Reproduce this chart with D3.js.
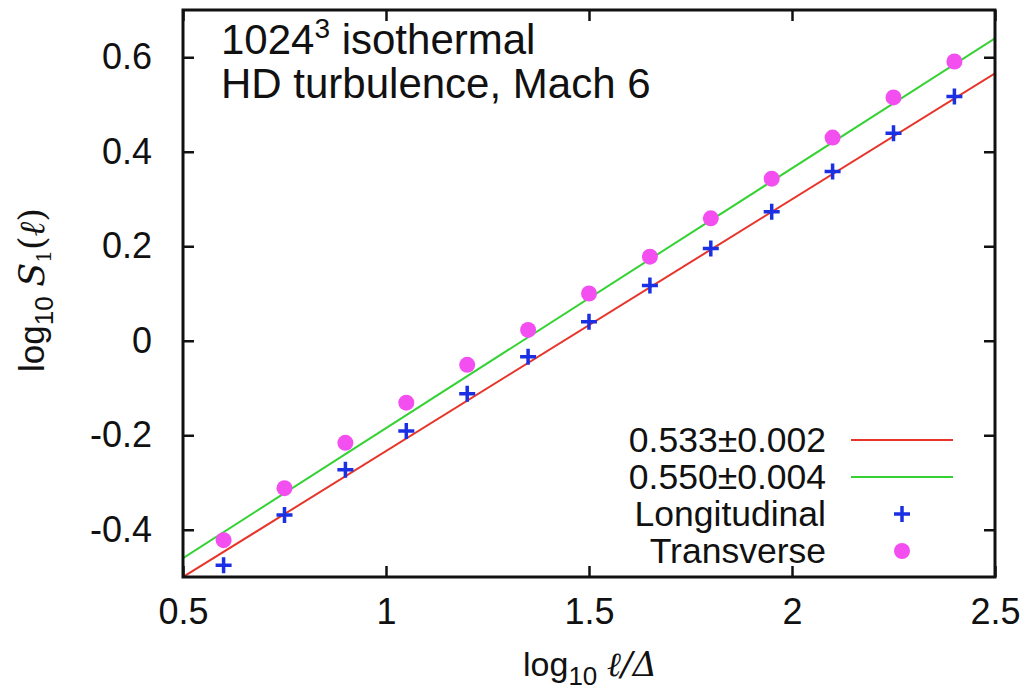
<!DOCTYPE html>
<html>
<head>
<meta charset="utf-8">
<script src="https://cdnjs.cloudflare.com/ajax/libs/d3/7.8.5/d3.min.js"></script>
<style>
  body { margin: 0; background: #fff; }
  svg text { font-family: "Liberation Sans", Arial, sans-serif; fill: #111; }
</style>
</head>
<body>
<svg id="chart" width="1030" height="691"></svg>
<script>
// data
var xs = [0.6, 0.75, 0.9, 1.05, 1.2, 1.35, 1.5, 1.65, 1.8, 1.95, 2.1, 2.25, 2.4];
var longitudinal = [-0.475, -0.369, -0.273, -0.191, -0.112, -0.034, 0.040, 0.117, 0.195, 0.273, 0.358, 0.439, 0.517];
var transverse = [-0.422, -0.312, -0.216, -0.131, -0.051, 0.023, 0.100, 0.178, 0.259, 0.343, 0.430, 0.515, 0.591];
var fitLong = [[0.5, -0.5], [2.5, 0.566]];
var fitTrans = [[0.5, -0.46], [2.5, 0.64]];
var xTicks = [0.5, 1, 1.5, 2, 2.5];
var yTicks = [-0.4, -0.2, 0, 0.2, 0.4, 0.6];
var legendLabels = ["0.533\u00b10.002", "0.550\u00b10.004", "Longitudinal", "Transverse"];

var mLeft = 183, mRight = 995, mTop = 10, mBottom = 577;

var svg = d3.select("#chart");
var x = d3.scaleLinear().domain([0.5, 2.5]).range([mLeft, mRight]);
var y = d3.scaleLinear().domain([-0.5, 0.7]).range([mBottom, mTop]);
var fmt = function(d) { return String(d); }; // plain hyphen minus like gnuplot

svg.append("clipPath").attr("id", "clip")
  .append("rect").attr("x", mLeft).attr("y", mTop)
  .attr("width", mRight - mLeft).attr("height", mBottom - mTop);

var plot = svg.append("g").attr("clip-path", "url(#clip)");
var line = d3.line().x(function(d) { return x(d[0]); }).y(function(d) { return y(d[1]); });

plot.append("path").datum(fitLong).attr("d", line)
  .attr("fill", "none").attr("stroke", "#e8352b").attr("stroke-width", 2);
plot.append("path").datum(fitTrans).attr("d", line)
  .attr("fill", "none").attr("stroke", "#34d233").attr("stroke-width", 2);

/* points */
var crossPath = "M-8,0H8M0,-8V8";
plot.selectAll(".lp").data(xs).enter().append("path")
  .attr("class", "lp")
  .attr("d", crossPath)
  .attr("transform", function(d, i) { return "translate(" + x(d) + "," + y(longitudinal[i]) + ")"; })
  .attr("stroke", "#1a30e2").attr("stroke-width", 3.5);
plot.selectAll(".tp").data(xs).enter().append("circle")
  .attr("class", "tp")
  .attr("cx", function(d) { return x(d); })
  .attr("cy", function(d, i) { return y(transverse[i]); })
  .attr("r", 8)
  .attr("fill", "#f34ff0");

/* axes - gnuplot style, ticks inward on all sides */
var tickLen = 11;
svg.append("g").attr("transform", "translate(0," + mBottom + ")")
  .call(d3.axisBottom(x).tickValues(xTicks).tickSize(-tickLen).tickPadding(21).tickFormat(fmt))
  .call(function(g) { g.select(".domain").remove(); });
svg.append("g").attr("transform", "translate(0," + mTop + ")")
  .call(d3.axisTop(x).tickValues(xTicks).tickSize(-tickLen).tickFormat(""))
  .call(function(g) { g.select(".domain").remove(); });
svg.append("g").attr("transform", "translate(" + mLeft + ",0)")
  .call(d3.axisLeft(y).tickValues(yTicks).tickSize(-tickLen).tickPadding(31).tickFormat(fmt))
  .call(function(g) { g.select(".domain").remove(); });
svg.append("g").attr("transform", "translate(" + mRight + ",0)")
  .call(d3.axisRight(y).tickValues(yTicks).tickSize(-tickLen).tickFormat(""))
  .call(function(g) { g.select(".domain").remove(); });

svg.selectAll(".tick line").attr("stroke", "#111").attr("stroke-width", 2.5);
svg.selectAll(".tick text").attr("font-size", 36).attr("fill", "#111")
  .attr("font-family", "'Liberation Sans', Arial, sans-serif");

svg.append("rect").attr("x", mLeft).attr("y", mTop)
  .attr("width", mRight - mLeft).attr("height", mBottom - mTop)
  .attr("fill", "none").attr("stroke", "#111").attr("stroke-width", 3);

/* annotation */
var ann = svg.append("text").attr("x", 221).attr("y", 54).attr("font-size", 42);
ann.append("tspan").text("1024");
ann.append("tspan").attr("dy", -16).attr("font-size", 28).text("3");
ann.append("tspan").attr("dy", 16).text(" isothermal");
svg.append("text").attr("x", 221).attr("y", 98).attr("font-size", 42).text("HD turbulence, Mach 6");

/* axis titles */
var xt = svg.append("text").attr("x", 590).attr("y", 676).attr("text-anchor", "middle").attr("font-size", 34);
xt.append("tspan").text("log");
xt.append("tspan").attr("dy", 9).attr("font-size", 26).text("10");
xt.append("tspan").attr("dy", -9).text(" ");
xt.append("tspan").attr("font-family", "'DejaVu Serif', serif").attr("font-style", "italic").text("\u2113/\u0394");

var yt = svg.append("text").attr("transform", "translate(44,290) rotate(-90)")
  .attr("text-anchor", "middle").attr("font-size", 35);
yt.append("tspan").text("log");
yt.append("tspan").attr("dy", 9).attr("font-size", 26).text("10");
yt.append("tspan").attr("dy", -9).text(" ");
yt.append("tspan").attr("font-family", "'DejaVu Serif', serif").attr("font-style", "italic").text("S");
yt.append("tspan").attr("dy", 7).attr("font-size", 20).attr("font-family", "'DejaVu Serif', serif").text("1");
yt.append("tspan").attr("dy", -7).attr("font-family", "'DejaVu Serif', serif").text("(");
yt.append("tspan").attr("font-family", "'DejaVu Serif', serif").attr("font-style", "italic").text("\u2113");
yt.append("tspan").attr("font-family", "'DejaVu Serif', serif").text(")");

/* legend */
var legY = d3.scalePoint().domain(legendLabels).range([440, 551]);
var leg = svg.append("g");
leg.selectAll("text").data(legendLabels).enter().append("text")
  .attr("x", 826).attr("y", function(d) { return legY(d) + 12; })
  .attr("text-anchor", "end").attr("font-size", 35.5)
  .text(function(d) { return d; });
leg.append("line").attr("x1", 851).attr("x2", 953).attr("y1", legY(legendLabels[0])).attr("y2", legY(legendLabels[0]))
  .attr("stroke", "#e8352b").attr("stroke-width", 2);
leg.append("line").attr("x1", 851).attr("x2", 953).attr("y1", legY(legendLabels[1])).attr("y2", legY(legendLabels[1]))
  .attr("stroke", "#34d233").attr("stroke-width", 2);
leg.append("path").attr("d", crossPath)
  .attr("transform", "translate(902," + legY(legendLabels[2]) + ")")
  .attr("stroke", "#1a30e2").attr("stroke-width", 3.5);
leg.append("circle").attr("cx", 902).attr("cy", legY(legendLabels[3])).attr("r", 8).attr("fill", "#f34ff0");
</script>
</body>
</html>
